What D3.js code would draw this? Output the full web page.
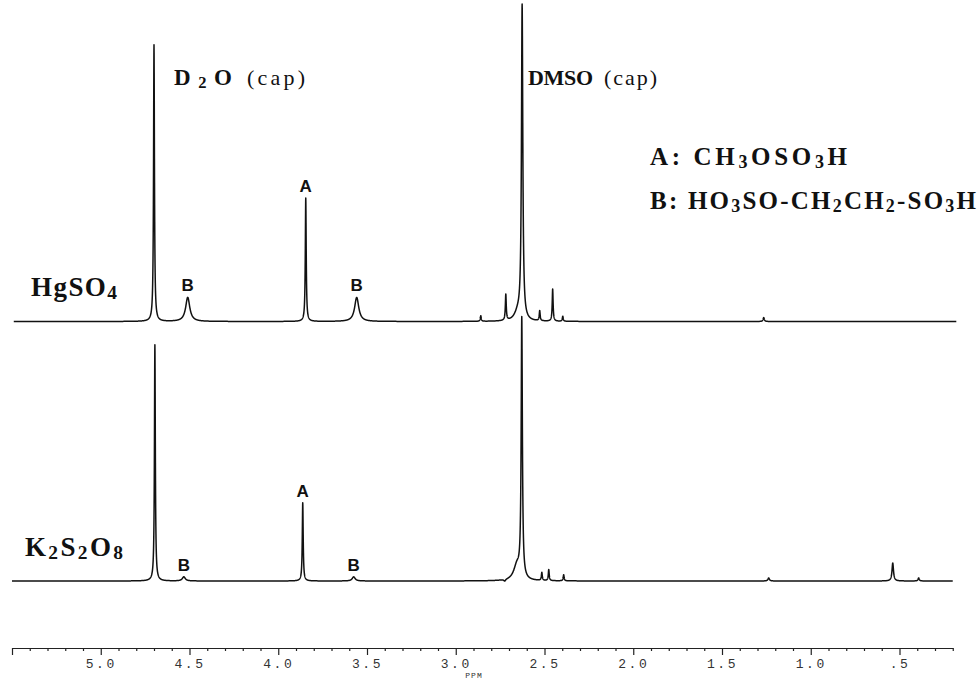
<!DOCTYPE html>
<html>
<head>
<meta charset="utf-8">
<script src="https://cdn.jsdelivr.net/npm/d3@7"></script>
<style>
  body { margin: 0; background: #fff; }
  svg { display: block; }
  .serif { font-family: "Liberation Serif", "Times New Roman", serif; fill: #111; }
  .tag { font-family: "Liberation Sans", Arial, sans-serif; font-weight: bold; font-size: 17px; fill: #111; text-anchor: middle; }
  .axis text { font-family: "Liberation Mono", monospace; font-size: 13px; fill: #333; letter-spacing: 2.5px; }
  .axis path, .axis line { stroke: #222; stroke-width: 1.2; }
  .trace { fill: none; stroke: #111; stroke-width: 1.5; stroke-linejoin: round; }
</style>
</head>
<body>
<div id="chart"></div>
<script>
const width = 980, height = 681;

// axis ticks (ppm)
const majorTicks = [5.5, 5.0, 4.5, 4.0, 3.5, 3.0, 2.5, 2.0, 1.5, 1.0, 0.5];
const tickLabels = ["", "5.0", "4.5", "4.0", "3.5", "3.0", "2.5", "2.0", "1.5", "1.0", ".5"];

// peaks: [ppm, height (D2O top trace = 100), half width at half height (ppm), tag]
const hgso4Peaks = [
  [4.700, 100.0, 0.0030, ""],
  [4.510, 8.7, 0.0140, "B"],
  [3.845, 44.6, 0.0030, "A"],
  [3.558, 8.7, 0.0140, "B"],
  [2.859, 2.0, 0.0030, ""],
  [2.718, 9.4, 0.0030, ""],
  [2.650, 3.0, 0.0220, ""],
  [2.626, 113.4, 0.0045, ""],
  [2.527, 3.6, 0.0030, ""],
  [2.454, 11.6, 0.0030, ""],
  [2.397, 1.8, 0.0030, ""],
  [1.265, 1.4, 0.0040, ""]
];
const k2s2o8Peaks = [
  [4.695, 85.4, 0.0030, ""],
  [4.532, 1.5, 0.0100, "B"],
  [3.862, 28.3, 0.0030, "A"],
  [3.575, 1.5, 0.0100, "B"],
  [2.724, -0.7, 0.0060, ""],
  [2.655, 5.5, 0.0220, ""],
  [2.628, 93.5, 0.0040, ""],
  [2.515, 2.9, 0.0030, ""],
  [2.476, 4.0, 0.0030, ""],
  [2.392, 2.2, 0.0030, ""],
  [1.237, 1.1, 0.0050, ""],
  [0.538, 6.5, 0.0050, ""],
  [0.392, 1.1, 0.0040, ""]
];
const hgso4Range = [5.49, 0.18];
const k2s2o8Range = [5.50, 0.20];

const svg = d3.select("#chart").append("svg")
  .attr("width", width)
  .attr("height", height);

const x = d3.scaleLinear().domain([5.5, 0.2]).range([12, 952.75]);
const yTop = d3.scaleLinear().domain([0, 100]).range([321.5, 45]);
const yBot = d3.scaleLinear().domain([0, 100]).range([581, 304.5]);

// lorentzian lines through the read peak list
function spectrum(peaks, range) {
  const pts = [];
  for (let p = range[0]; p >= range[1]; p -= 0.0005) {
    let v = 0;
    for (const [c, h, w] of peaks) v += h * w * w / ((p - c) * (p - c) + w * w);
    pts.push([p, v]);
  }
  return pts;
}

function drawTrace(peaks, range, y) {
  const line = d3.line().x(d => x(d[0])).y(d => y(d[1]));
  svg.append("path")
    .attr("class", "trace")
    .attr("d", line(spectrum(peaks, range)));

  svg.selectAll(null)
    .data(peaks.filter(d => d[3]))
    .enter()
    .append("text")
    .attr("class", "tag")
    .attr("x", d => x(d[0]))
    .attr("y", d => y(d[1]) - 6)
    .text(d => d[3]);
}

drawTrace(hgso4Peaks, hgso4Range, yTop);
drawTrace(k2s2o8Peaks, k2s2o8Range, yBot);

// formula text, "_d" marks a subscript digit, stretched to a target width
function formula(str, x0, y0, size, target, bold) {
  const t = svg.append("text")
    .attr("class", "serif")
    .attr("x", x0)
    .attr("y", y0)
    .style("font-size", size + "px")
    .style("font-weight", bold ? "bold" : "normal");
  let down = false;
  str.split(/(_\d)/).filter(s => s).forEach(s => {
    const sub = s[0] === "_";
    const ts = t.append("tspan").text(sub ? s.slice(1) : s);
    if (sub) {
      ts.style("font-size", (size * 0.72) + "px").attr("dy", down ? 0 : 3);
      down = true;
    } else if (down) {
      ts.attr("dy", -3);
      down = false;
    }
  });
  const n = t.text().length;
  const w = t.node().getComputedTextLength();
  if (n > 1) t.style("letter-spacing", ((target - w) / (n - 1)) + "px");
  return t;
}

formula("D_2O", 174, 85, 23, 58, true);
formula("(cap)", 247, 85, 22, 58, false);
formula("DMSO", 528, 85, 22, 65, true);
formula("(cap)", 604, 85, 22, 53, false);
formula("A: CH_3OSO_3H", 650, 165, 25, 197, true);
formula("B: HO_3SO-CH_2CH_2-SO_3H", 650, 209, 25, 326, true);
formula("HgSO_4", 31, 296, 27, 86, true);
formula("K_2S_2O_8", 25, 556, 27, 98, true);

// ppm axis
const axisY = 648;
const minorTicks = d3.range(2, 56).map(i => i / 10).filter(v => Math.round(v * 10) % 5 !== 0);

svg.append("g")
  .attr("class", "axis")
  .attr("transform", `translate(0,${axisY})`)
  .call(d3.axisBottom(x).tickValues(minorTicks).tickSize(3).tickSizeOuter(0).tickFormat(""));

const gMajor = svg.append("g")
  .attr("class", "axis")
  .attr("transform", `translate(0,${axisY})`)
  .call(d3.axisBottom(x)
    .tickValues(majorTicks)
    .tickSize(7)
    .tickPadding(4)
    .tickFormat(d => tickLabels[majorTicks.indexOf(d)]));
gMajor.select(".domain").remove();

svg.append("text")
  .attr("x", 474)
  .attr("y", 678)
  .attr("text-anchor", "middle")
  .style("font-family", "Liberation Mono, monospace")
  .style("font-size", "8px")
  .style("letter-spacing", "1px")
  .style("fill", "#333")
  .text("PPM");
</script>
</body>
</html>
